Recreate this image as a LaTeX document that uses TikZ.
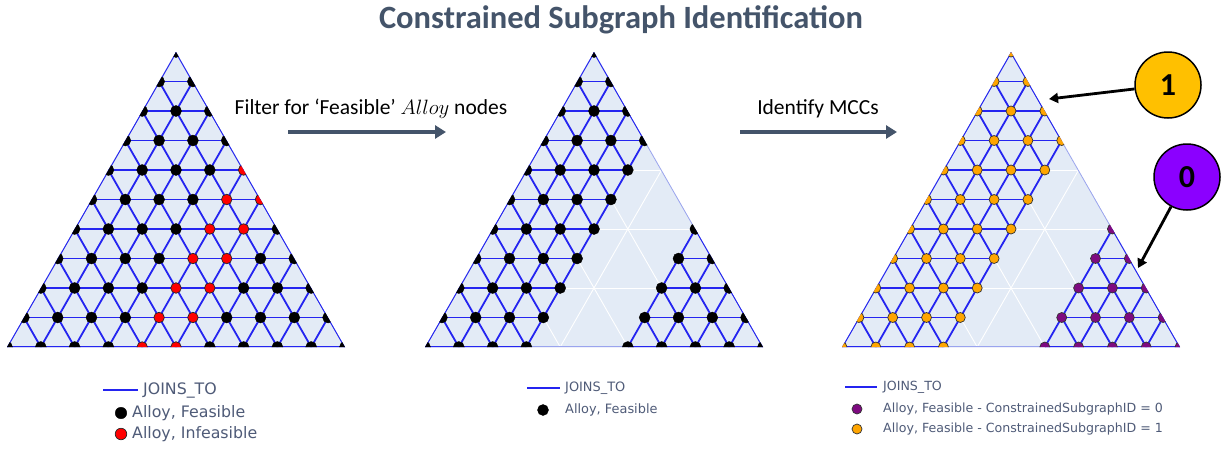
\documentclass[tikz,border=0pt]{standalone}
\usepackage{fontspec}
\setmainfont{Carlito}
\newfontfamily\legendfont{DejaVu Sans}
\usetikzlibrary{arrows.meta}

\definecolor{slate}{HTML}{44546A}
\definecolor{ternfill}{HTML}{E3EBF6}
\definecolor{ternline}{HTML}{9AA4EE}
\definecolor{joinblue}{HTML}{2424F0}
\definecolor{leggray}{HTML}{4F5B78}
\definecolor{csgorange}{HTML}{FFA500}
\definecolor{csgpurple}{HTML}{7E0A80}
\definecolor{callyellow}{HTML}{FFC000}
\definecolor{callpurple}{HTML}{8B00FF}

% one ternary lattice: #1 prefix, #2 apex x, #3 mode (1 all, 2 feasible, 3 by subgraph)
\newcommand{\ternlattice}[3]{%
  \begin{scope}
    \clip (#2,52) -- ({#2-169},347) -- ({#2+169},347) -- cycle;
    \fill[ternarea] (#2,52) -- ({#2-169},347) -- ({#2+169},347) -- cycle;
    \foreach \r in {0,...,10} {
      \foreach \c in {0,...,\r} {
        \coordinate (#1-\r-\c) at ({#2+(\c-\r/2)*33.8},{52+\r*29.5});
      }
    }
    % coarse grid
    \foreach \k [evaluate=\k as \j using int(10-\k)] in {2,4,6,8} {
      \draw[terngrid] (#1-\k-0) -- (#1-\k-\k);
      \draw[terngrid] (#1-10-\k) -- (#1-\k-\k);
      \draw[terngrid] (#1-10-\j) -- (#1-\k-0);
    }
    \draw[ternborder] (#1-0-0) -- (#1-10-0) -- (#1-10-10) -- cycle;
    % JOINS_TO edges
    \foreach \r in {0,...,10} {
      \foreach \c in {0,...,\r} {
        \pgfmathtruncatemacro\cn{\c+1}
        \pgfmathtruncatemacro\rn{\r+1}
        \pgfmathtruncatemacro\oka{(#3==1)||(\c<4)||(\c>5)}
        \pgfmathtruncatemacro\okb{(#3==1)||(\cn<4)||(\cn>5)}
        \ifnum\oka=1
          \ifnum\r<10\relax \draw[joins] (#1-\r-\c) -- (#1-\rn-\c); \fi
          \ifnum\okb=1
            \ifnum\c<\r\relax \draw[joins] (#1-\r-\c) -- (#1-\r-\cn); \fi
            \ifnum\r<10\relax \draw[joins] (#1-\r-\c) -- (#1-\rn-\cn); \fi
          \fi
        \fi
      }
    }
    % Alloy nodes
    \foreach \r in {0,...,10} {
      \foreach \c in {0,...,\r} {
        \pgfmathtruncatemacro\kind{#3==1 ? (((\c==4)||(\c==5)) ? 1 : 0) : (#3==2 ? (((\c<4)||(\c>5)) ? 0 : 4) : ((\c<4) ? 2 : ((\c>5) ? 3 : 4)))}
        \ifcase\kind
          \node[feasdot] (#1-\r-\c-dot) at (#1-\r-\c) {};
        \or
          \node[infdot] (#1-\r-\c-dot) at (#1-\r-\c) {};
        \or
          \node[csgone] (#1-\r-\c-dot) at (#1-\r-\c) {};
        \or
          \node[csgzero] (#1-\r-\c-dot) at (#1-\r-\c) {};
        \fi
      }
    }
  \end{scope}
}

\begin{document}
\begin{tikzpicture}[x=1pt, y=-1pt,
  ternarea/.style={fill=ternfill},
  terngrid/.style={draw=white, line width=.9pt},
  ternborder/.style={draw=ternline, line width=1.6pt},
  joins/.style={draw=joinblue, line width=1.8pt},
  feasdot/.style={circle, fill=black, draw=black, inner sep=0pt, minimum size=11pt},
  infdot/.style={circle, fill=red, draw=black!85, line width=.7pt, inner sep=0pt, minimum size=10.5pt},
  csgone/.style={circle, fill=csgorange, draw=black!80, line width=.7pt, inner sep=0pt, minimum size=10pt},
  csgzero/.style={circle, fill=csgpurple, draw=black!80, line width=.7pt, inner sep=0pt, minimum size=10pt},
  titletext/.style={text=slate, font=\bfseries\fontsize{32.5}{34}\selectfont},
  steptext/.style={text=black, font=\fontsize{21.5}{23}\selectfont},
  flowarrow/.style={draw=slate, line width=4pt, -{Triangle[length=11pt, width=13pt]}},
  calloutnum/.style={circle, draw=black, line width=1.5pt, minimum size=66pt, inner sep=0pt, font=\bfseries\fontsize{32}{32}\selectfont},
  callarrow/.style={draw=black, line width=2.8pt, -{Triangle[length=9pt, width=10pt]}},
  legline/.style={draw=joinblue, line width=2pt},
  legA/.style={anchor=west, inner sep=0pt, text=leggray, font={\legendfont\fontsize{15.8}{16}\selectfont}},
  legB/.style={anchor=west, inner sep=0pt, text=leggray, font={\legendfont\fontsize{12.9}{13}\selectfont}},
  legC/.style={anchor=west, inner sep=0pt, text=leggray, font={\legendfont\fontsize{12.6}{13}\selectfont}}
]
\useasboundingbox[fill=white] (0,0) rectangle (1225,448);

% Title
\node[titletext] (title) at (621,20) {Constrained Subgraph Identification};

% Three lattices
\ternlattice{all}{176}{1}
\ternlattice{feas}{594}{2}
\ternlattice{mcc}{1011}{3}

% Step arrows
\node[steptext] (filterlbl) at (371,109) {Filter for ‘Feasible’ $Alloy$ nodes};
\coordinate (filterA) at (288,132);
\coordinate (filterB) at (446,132);
\draw[flowarrow] (filterA) -- (filterB);

\node[steptext] (mcclbl) at (818,109) {Identify MCCs};
\coordinate (mccA) at (740,132);
\coordinate (mccB) at (897,132);
\draw[flowarrow] (mccA) -- (mccB);

% Callouts
\node[calloutnum, fill=callyellow] (one) at (1168,85) {1};
\coordinate (onetip) at (1049,99);
\draw[callarrow] (one) -- (onetip);

\node[calloutnum, fill=callpurple] (zero) at (1187,177) {0};
\coordinate (zerotip) at (1138,268);
\draw[callarrow] (zero) -- (zerotip);

% Legend, first panel
\coordinate (legAa) at (103,390);
\coordinate (legAb) at (138,390);
\draw[legline] (legAa) -- (legAb);
\node[legA] (legAjoin) at (143,390) {JOINS\_TO};
\node[feasdot, minimum size=11.5pt] (legAfeas) at (121,413) {};
\node[legA] (legAfeastxt) at (132,413) {Alloy, Feasible};
\node[infdot, minimum size=11.5pt] (legAinf) at (121,434) {};
\node[legA] (legAinftxt) at (132,434) {Alloy, Infeasible};

% Legend, second panel
\coordinate (legBa) at (527,388);
\coordinate (legBb) at (560,388);
\draw[legline] (legBa) -- (legBb);
\node[legB] (legBjoin) at (565,388) {JOINS\_TO};
\node[feasdot] (legBfeas) at (543,410) {};
\node[legB] (legBfeastxt) at (565,410) {Alloy, Feasible};

% Legend, third panel
\coordinate (legCa) at (845,387);
\coordinate (legCb) at (877,387);
\draw[legline] (legCa) -- (legCb);
\node[legC] (legCjoin) at (883,387) {JOINS\_TO};
\node[csgzero] (legCzero) at (857,409) {};
\node[legC] (legCzerotxt) at (883,409) {Alloy, Feasible - ConstrainedSubgraphID = 0};
\node[csgone] (legCone) at (857,429) {};
\node[legC] (legConetxt) at (883,429) {Alloy, Feasible - ConstrainedSubgraphID = 1};

\end{tikzpicture}
\end{document}
